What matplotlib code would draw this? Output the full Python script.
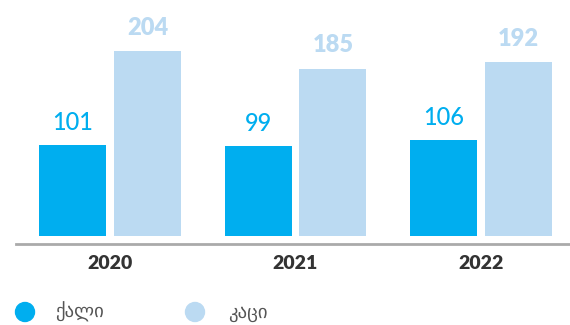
import matplotlib
matplotlib.use("Agg")
import matplotlib.pyplot as plt
import numpy as np

years = ["2020", "2021", "2022"]
women = [101, 99, 106]
men = [204, 185, 192]
series_labels = ["ქალი", "კაცი"]

c_women = "#00AEEF"
c_men = "#BBDAF2"

fig = plt.figure(figsize=(5.70, 3.25), dpi=100)
ax = fig.add_axes([16 / 570, 81 / 325, 554 / 570, 244 / 325])

x = np.arange(len(years))
w = 0.361
off = 0.202
b1 = ax.bar(x - off, women, width=w, color=c_women)
b2 = ax.bar(x + off, men, width=w, color=c_men)

for rect, v in zip(b1, women):
    ax.annotate(str(v), (rect.get_x() + rect.get_width() / 2, v),
                xytext=(0, 8), textcoords="offset points",
                ha="center", va="bottom", fontsize=17, color=c_women,
                family="Lato", fontweight="medium")
for rect, v in zip(b2, men):
    ax.annotate(str(v), (rect.get_x() + rect.get_width() / 2, v),
                xytext=(0, 9), textcoords="offset points",
                ha="center", va="bottom", fontsize=17, color=c_men,
                family="Lato", fontweight="heavy")

ax.set_xlim(-0.507, 2.48)
ax.set_ylim(-8.8, 260.8)
for s in ["top", "right", "left"]:
    ax.spines[s].set_visible(False)
ax.spines["bottom"].set_color("#AAAAAA")
ax.spines["bottom"].set_linewidth(2)
ax.set_yticks([])
ax.set_xticks(x)
ax.set_xticklabels(years, fontsize=14, fontweight="heavy", color="#333333",
                   family="Lato")
ax.tick_params(axis="x", length=0, pad=8)

# legend row
for cx, tx, col, lab in [(25, 55, c_women, series_labels[0]),
                         (195, 228, c_men, series_labels[1])]:
    fig.add_artist(matplotlib.patches.Ellipse((cx / 570, 1 - 312 / 325),
                                              19 / 570, 19 / 325,
                                              transform=fig.transFigure,
                                              color=col))
    fig.text(tx / 570, 1 - 312 / 325, lab, fontsize=13.5, color="#555555",
             va="center", ha="left", family="DejaVu Sans")

fig.savefig("out.png", dpi=100)
